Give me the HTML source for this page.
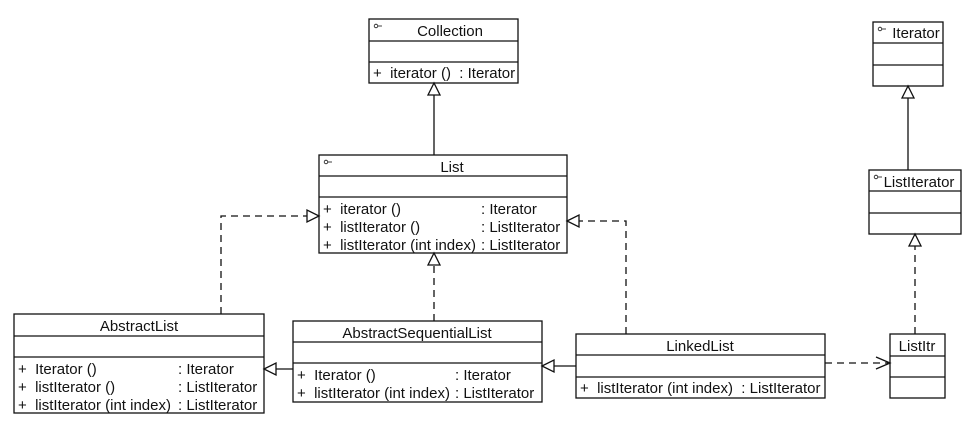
<!DOCTYPE html>
<html><head><meta charset="utf-8"><style>
html,body{margin:0;padding:0;background:#fff;}
svg{display:block;}
text{font-family:"Liberation Sans",Arial,sans-serif;font-size:15px;fill:#111;}
</style></head><body>
<svg width="973" height="432" viewBox="0 0 973 432" xmlns="http://www.w3.org/2000/svg">
<g fill="none" stroke="#111" stroke-width="1.3">
<rect x="369" y="19" width="149" height="64"/>
<line x1="369" y1="41" x2="518" y2="41"/><line x1="369" y1="62" x2="518" y2="62"/>
<rect x="319" y="155" width="248" height="98"/>
<line x1="319" y1="176" x2="567" y2="176"/><line x1="319" y1="197" x2="567" y2="197"/>
<rect x="14" y="314" width="250" height="99"/>
<line x1="14" y1="336" x2="264" y2="336"/><line x1="14" y1="357" x2="264" y2="357"/>
<rect x="293" y="321" width="249" height="81"/>
<line x1="293" y1="342" x2="542" y2="342"/><line x1="293" y1="363" x2="542" y2="363"/>
<rect x="576" y="334" width="249" height="64"/>
<line x1="576" y1="355" x2="825" y2="355"/><line x1="576" y1="377" x2="825" y2="377"/>
<rect x="890" y="334" width="55" height="64"/>
<line x1="890" y1="356" x2="945" y2="356"/><line x1="890" y1="377" x2="945" y2="377"/>
<rect x="873" y="22" width="70" height="64"/>
<line x1="873" y1="43" x2="943" y2="43"/><line x1="873" y1="65" x2="943" y2="65"/>
<rect x="869" y="170" width="92" height="64"/>
<line x1="869" y1="191" x2="961" y2="191"/><line x1="869" y1="213" x2="961" y2="213"/>

<line x1="434" y1="155" x2="434" y2="95"/>
<polygon points="434,83 428,95 440,95" fill="#fff"/>
<line x1="908" y1="170" x2="908" y2="98"/>
<polygon points="908,86 902,98 914,98" fill="#fff"/>
<g stroke-dasharray="7,5">
<polyline points="221,314 221,216 307,216"/>
<line x1="434" y1="321" x2="434" y2="265"/>
<polyline points="626,334 626,221 579,221"/>
<line x1="915" y1="334" x2="915" y2="246"/>
<line x1="825" y1="363" x2="888" y2="363"/>
</g>
<polygon points="319,216 307,210 307,222" fill="#fff"/>
<polygon points="434,253 428,265 440,265" fill="#fff"/>
<polygon points="567,221 579,215 579,227" fill="#fff"/>
<polygon points="915,234 909,246 921,246" fill="#fff"/>
<polyline points="876,357 890,363 876,369"/>
<line x1="293" y1="369" x2="276" y2="369"/>
<polygon points="264,369 276,363 276,375" fill="#fff"/>
<line x1="576" y1="366" x2="554" y2="366"/>
<polygon points="542,366 554,360 554,372" fill="#fff"/>
<g stroke-width="0.8">
<circle cx="376" cy="26" r="1.8"/><line x1="378" y1="26" x2="382" y2="26"/>
<circle cx="326" cy="162" r="1.8"/><line x1="328" y1="162" x2="332" y2="162"/>
<circle cx="880" cy="29" r="1.8"/><line x1="882" y1="29" x2="886" y2="29"/>
<circle cx="876" cy="177" r="1.8"/><line x1="878" y1="177" x2="882" y2="177"/>
</g>
</g>
<text x="450" y="36" text-anchor="middle">Collection</text>
<text x="373" y="78">+&#160;&#160;iterator () &#160;: Iterator</text>
<text x="452" y="172" text-anchor="middle">List</text>
<text x="323" y="214">+&#160;&#160;iterator ()</text><text x="481" y="214">: Iterator</text>
<text x="323" y="232">+&#160;&#160;listIterator ()</text><text x="481" y="232">: ListIterator</text>
<text x="323" y="250">+&#160;&#160;listIterator (int index)</text><text x="481" y="250">: ListIterator</text>
<text x="139" y="331" text-anchor="middle">AbstractList</text>
<text x="18" y="374">+&#160;&#160;Iterator ()</text><text x="178" y="374">: Iterator</text>
<text x="18" y="392">+&#160;&#160;listIterator ()</text><text x="178" y="392">: ListIterator</text>
<text x="18" y="410">+&#160;&#160;listIterator (int index)</text><text x="178" y="410">: ListIterator</text>
<text x="417" y="338" text-anchor="middle">AbstractSequentialList</text>
<text x="297" y="380">+&#160;&#160;Iterator ()</text><text x="455" y="380">: Iterator</text>
<text x="297" y="398">+&#160;&#160;listIterator (int index)</text><text x="455" y="398">: ListIterator</text>
<text x="700" y="351" text-anchor="middle">LinkedList</text>
<text x="580" y="393">+&#160;&#160;listIterator (int index) &#160;: ListIterator</text>
<text x="917" y="351" text-anchor="middle">ListItr</text>
<text x="916" y="38" text-anchor="middle">Iterator</text>
<text x="919" y="187" text-anchor="middle">ListIterator</text>
</svg>
</body></html>
